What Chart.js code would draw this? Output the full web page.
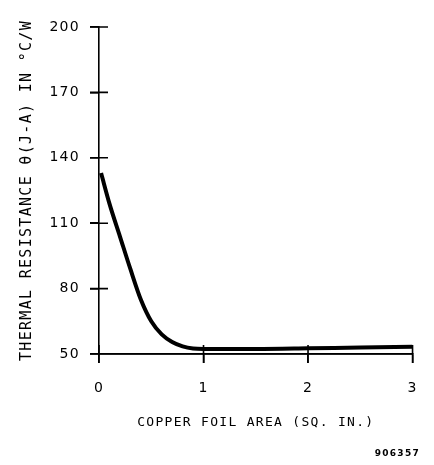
<!DOCTYPE html>
<html>
<head>
<meta charset="utf-8">
<script src="https://cdn.jsdelivr.net/npm/chart.js@4/dist/chart.umd.min.js"></script>
<style>
html,body{margin:0;padding:0;background:#fff;}
#wrap{width:434px;height:465px;}
</style>
</head>
<body>
<div id="wrap"><canvas id="c" width="434" height="465"></canvas></div>
<script>
const foilArea = [0.02, 0.1, 0.2, 0.3, 0.4, 0.5, 0.6, 0.7, 0.8, 0.9, 1.0, 1.5, 2.0, 2.5, 3.0];
const thermalRes = [133, 119, 104, 89, 75, 65, 59, 55.5, 53.5, 52.5, 52.3, 52.3, 52.6, 53, 53.3];
const xTicks = [0, 1, 2, 3];
const yTicks = [50, 80, 110, 140, 170, 200];
const xTitle = 'COPPER FOIL AREA (SQ. IN.)';
const yTitle = 'THERMAL RESISTANCE θ(J-A) IN °C/W';
const figId = '906357';

const FONT = 'DejaVu Sans';
const MONO = 'DejaVu Sans Mono';

const spacing = {
  id: 'spacing',
  beforeDraw(chart) { chart.ctx.letterSpacing = '1.3px'; }
};

const crossTicks = {
  id: 'crossTicks',
  afterDraw(chart) {
    const ctx = chart.ctx;
    const xs = chart.scales.x, ys = chart.scales.y;
    const ax = xs.left, ay = ys.bottom;
    ctx.save();
    ctx.strokeStyle = '#000';
    ctx.lineWidth = 1.6;
    ctx.beginPath();
    ys.ticks.forEach((t, i) => {
      const p = ys.getPixelForTick(i);
      ctx.moveTo(ax - 9, p); ctx.lineTo(ax + 9, p);
    });
    xs.ticks.forEach((t, i) => {
      const p = xs.getPixelForTick(i);
      ctx.moveTo(p, ay - 9); ctx.lineTo(p, ay + 9);
    });
    ctx.moveTo(ax - 9, ay); ctx.lineTo(xs.right, ay);
    ctx.stroke();
    ctx.restore();
  }
};

new Chart(document.getElementById('c'), {
  type: 'line',
  data: {
    datasets: [{
      data: foilArea.map((x, i) => ({x: x, y: thermalRes[i]})),
      borderColor: '#000',
      borderWidth: 4,
      pointRadius: 0,
      cubicInterpolationMode: 'monotone',
      fill: false
    }]
  },
  options: {
    responsive: false,
    animation: false,
    devicePixelRatio: 1,
    layout: { padding: { top: 27, right: 14, left: 0, bottom: 0 } },
    plugins: {
      legend: { display: false },
      tooltip: { enabled: false },
      title: {
        display: true,
        text: figId,
        position: 'bottom',
        align: 'end',
        color: '#000',
        font: { family: FONT, size: 9, weight: 'bold', lineHeight: 1 },
        padding: { top: 4, bottom: 7 }
      }
    },
    scales: {
      x: {
        type: 'linear',
        min: 0, max: 3,
        afterBuildTicks(s) { s.ticks = xTicks.map(v => ({value: v})); },
        afterFit(s) { s.height = 91; },
        ticks: { color: '#000', font: { family: FONT, size: 14 }, padding: 17, maxRotation: 0 },
        grid: { drawOnChartArea: false, color: '#000', lineWidth: 1.6, tickLength: 9 },
        border: { display: true, color: '#000', width: 1.6 },
        title: {
          display: true, text: xTitle, color: '#000',
          font: { family: MONO, size: 13, lineHeight: 1 },
          padding: { top: 0, bottom: 16 }
        }
      },
      y: {
        type: 'linear',
        min: 50, max: 200,
        afterBuildTicks(s) { s.ticks = yTicks.map(v => ({value: v})); },
        afterFit(s) { s.width = 99; },
        ticks: { color: '#000', font: { family: FONT, size: 14 }, padding: 10 },
        grid: { drawOnChartArea: false, color: '#000', lineWidth: 1.6, tickLength: 9 },
        border: { display: true, color: '#000', width: 1.6 },
        title: {
          display: true, text: yTitle, color: '#000',
          font: { family: MONO, size: 15, lineHeight: 1 },
          padding: { top: 19.5, bottom: 0 }
        }
      }
    }
  },
  plugins: [spacing, crossTicks]
});
</script>
</body>
</html>
